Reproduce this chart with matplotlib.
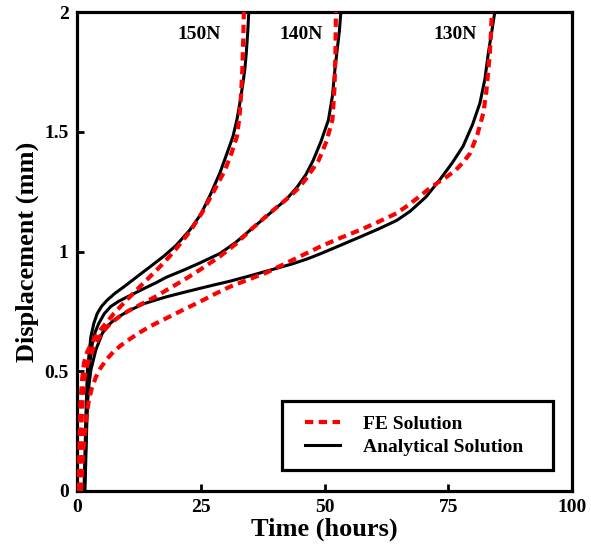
import matplotlib
matplotlib.use("Agg")
import matplotlib.pyplot as plt
from matplotlib.patches import Rectangle

plt.rcParams['font.family'] = ['Liberation Serif', 'DejaVu Serif']
plt.rcParams['font.weight'] = 'bold'

# Analytical solution (black solid): time in hours, displacement in mm
t_an_150 = [1.4, 1.6, 1.8, 2.1, 2.8, 3.4, 4.1, 5.0, 6.1, 7.7, 9.5, 11.2, 12.9, 15.0, 17.5, 20.0, 22.8, 25.0,
            27.0, 28.9, 30.3, 31.5, 32.3, 32.9, 33.5, 33.9, 34.2, 34.5, 34.7]
d_an_150 = [0, 0.15, 0.32, 0.505, 0.644, 0.70, 0.742, 0.772, 0.797, 0.826, 0.853, 0.88, 0.907, 0.94, 0.98,
            1.025, 1.09, 1.155, 1.24, 1.33, 1.41, 1.48, 1.55, 1.62, 1.70, 1.76, 1.83, 1.92, 2.0]

t_an_140 = [1.5, 1.7, 2.0, 2.4, 3.1, 3.7, 4.4, 5.5, 6.8, 8.4, 10.2, 13.5, 16.0, 18.1, 21.5, 24.8, 28.9, 32.0,
            35.6, 39.0, 42.4, 44.5, 46.2, 47.7, 49.3, 50.8, 51.6, 52.1, 52.6, 53.0, 53.3]
d_an_140 = [0, 0.15, 0.33, 0.505, 0.617, 0.665, 0.70, 0.74, 0.77, 0.792, 0.811, 0.845, 0.87, 0.893, 0.922,
            0.952, 0.992, 1.037, 1.10, 1.16, 1.22, 1.27, 1.32, 1.38, 1.46, 1.55, 1.65, 1.76, 1.85, 1.92, 2.0]

t_an_130 = [1.6, 1.8, 2.1, 2.4, 2.8, 3.8, 5.1, 6.2, 7.5, 9.0, 10.8, 13.5, 16.0, 18.1, 21.5, 24.8, 28.0, 30.9,
            34.5, 38.3, 43.6, 46.5, 49.1, 53.0, 57.2, 61.0, 64.6, 67.3, 70.5, 73.3, 75.8, 78.0, 79.9, 81.4,
            82.4, 83.1, 83.8, 84.4]
d_an_130 = [0, 0.15, 0.366, 0.44, 0.505, 0.589, 0.658, 0.69, 0.714, 0.735, 0.756, 0.782, 0.798, 0.811, 0.829,
            0.846, 0.862, 0.876, 0.896, 0.918, 0.949, 0.969, 0.99, 1.024, 1.061, 1.095, 1.13, 1.168, 1.228,
            1.30, 1.37, 1.44, 1.53, 1.62, 1.72, 1.83, 1.92, 2.0]

# FE solution (red dashed)
t_fe_150 = [0.3, 0.5, 0.7, 1.0, 1.4, 2.0, 2.8, 3.7, 4.8, 6.0, 7.5, 9.0, 10.8, 12.5, 14.5, 16.5, 18.5, 20.1,
            22.8, 25.2, 27.6, 29.9, 31.2, 32.3, 32.8, 33.1, 33.4, 33.6, 33.7]
d_fe_150 = [0, 0.18, 0.366, 0.46, 0.534, 0.578, 0.612, 0.643, 0.674, 0.705, 0.742, 0.775, 0.813, 0.849, 0.89,
            0.931, 0.975, 1.013, 1.083, 1.16, 1.25, 1.34, 1.41, 1.48, 1.56, 1.64, 1.76, 1.9, 2.0]

t_fe_140 = [0.5, 0.7, 1.0, 1.4, 1.9, 2.4, 3.2, 4.1, 5.3, 6.8, 8.4, 10.2, 13.5, 16.0, 18.1, 21.5, 24.8, 28.9,
            32.0, 35.6, 39.5, 43.0, 45.0, 46.5, 48.8, 50.4, 51.6, 52.0, 52.2, 52.3]
d_fe_140 = [0, 0.15, 0.33, 0.46, 0.512, 0.548, 0.59, 0.628, 0.667, 0.70, 0.726, 0.75, 0.786, 0.813, 0.839,
            0.88, 0.923, 0.98, 1.03, 1.10, 1.17, 1.23, 1.27, 1.31, 1.38, 1.46, 1.55, 1.68, 1.82, 2.0]

t_fe_130 = [0.8, 1.1, 1.5, 1.9, 2.4, 3.0, 3.8, 4.8, 6.0, 7.3, 8.8, 10.5, 12.5, 15.0, 18.1, 21.5, 24.8, 27.8,
            30.9, 34.5, 38.3, 43.6, 49.1, 53.0, 57.2, 61.0, 64.6, 67.0, 69.0, 71.0, 72.9, 74.7, 76.5, 78.0,
            79.4, 80.9, 82.1, 82.7, 83.1, 83.4, 83.6, 83.8]
d_fe_130 = [0, 0.12, 0.23, 0.31, 0.38, 0.43, 0.475, 0.515, 0.55, 0.58, 0.607, 0.632, 0.66, 0.69, 0.722,
            0.757, 0.79, 0.822, 0.853, 0.882, 0.912, 0.965, 1.02, 1.055, 1.09, 1.125, 1.16, 1.195, 1.227,
            1.26, 1.288, 1.312, 1.34, 1.372, 1.41, 1.49, 1.58, 1.67, 1.76, 1.83, 1.9, 2.0]

load_labels = ['150N', '140N', '130N']
label_x = [24.6, 45.3, 76.4]
label_y = 1.905

fig = plt.figure(figsize=(5.91, 5.51), dpi=100)
ax = fig.add_axes([0.1303, 0.1089, 0.8376, 0.8693])

an_sets = [(t_an_150, d_an_150), (t_an_140, d_an_140), (t_an_130, d_an_130)]
fe_sets = [(t_fe_150, d_fe_150), (t_fe_140, d_fe_140), (t_fe_130, d_fe_130)]

fe_line = an_line = None
for t, d in an_sets:
    an_line, = ax.plot(t, d, color='black', linewidth=2.2, solid_joinstyle='round', zorder=2)
for t, d in fe_sets:
    fe_line, = ax.plot(t, d, color='#ff0000', linewidth=3.0, linestyle=(0, (2.0, 1.3)), zorder=3)

for lab, x in zip(load_labels, label_x):
    ax.text(x, label_y, lab, ha='center', va='center', fontsize=14, fontweight='bold')

ax.set_xlim(0, 100)
ax.set_ylim(0, 2)
ax.set_xticks([0, 25, 50, 75, 100])
ax.set_yticks([0, 0.5, 1, 1.5, 2])
ax.set_yticklabels(['0', '0.5', '1', '1.5', '2'])
ax.tick_params(direction='in', length=5, width=2, labelsize=14, pad=6)
for lbl in ax.get_xticklabels() + ax.get_yticklabels():
    lbl.set_fontweight('bold')
for sp in ax.spines.values():
    sp.set_linewidth(2.3)

ax.set_xlabel('Time (hours)', fontsize=19, fontweight='bold', labelpad=1)
ax.set_ylabel('Displacement (mm)', fontsize=19, fontweight='bold', labelpad=4)

# legend box drawn by hand, entries placed inside it
ax.add_patch(Rectangle((0.4135, 0.0438), 0.5485, 0.1447, transform=ax.transAxes,
                       facecolor='white', edgecolor='black', linewidth=2.3, zorder=5))
leg = ax.legend([fe_line, an_line], ['FE Solution', 'Analytical Solution'],
                loc='center left', bbox_to_anchor=(0.4606, 0.1155),
                prop={'family': 'Liberation Serif', 'weight': 'bold', 'size': 14},
                handlelength=1.8, handletextpad=1.2, borderpad=0.0,
                labelspacing=0.25, borderaxespad=0, frameon=False)
leg.set_zorder(6)

fig.savefig('out.png', dpi=100)
